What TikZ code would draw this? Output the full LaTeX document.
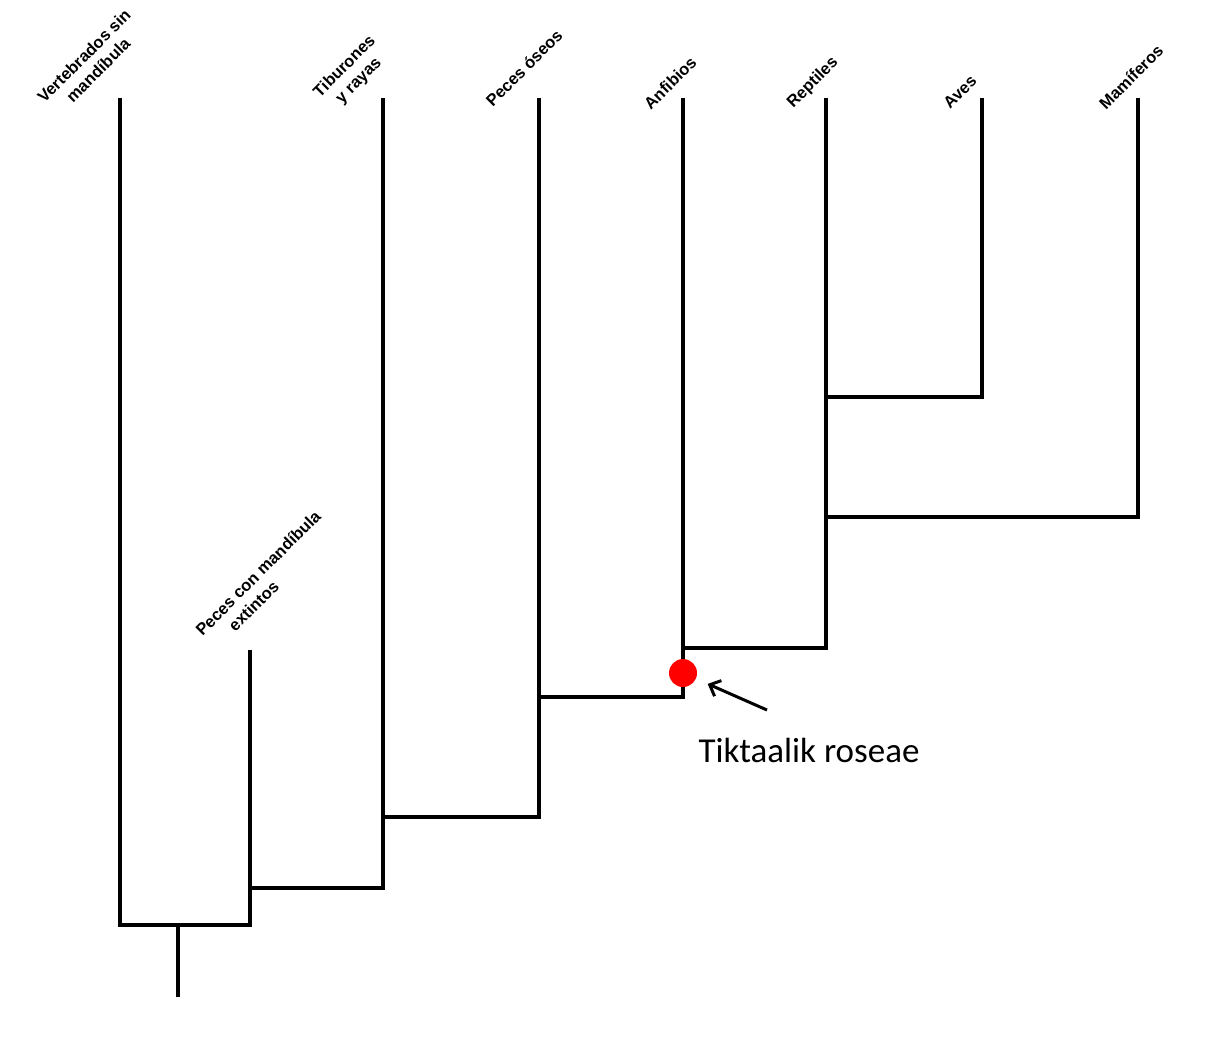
\documentclass[tikz,border=0pt]{standalone}
\usepackage{fontspec}
\setmainfont{Liberation Sans}
\newfontfamily\calibrifont{Carlito}
\usetikzlibrary{arrows.meta}
\begin{document}
\begin{tikzpicture}[x=1pt,y=-1pt,
  br/.style={line width=4pt,line join=miter,line cap=butt,black},
  taxon/.style={rotate=45,font=\bfseries\fontsize{16.5}{20}\selectfont,align=center,inner sep=0pt},
  fossil/.style={circle,fill=red,minimum size=28pt,inner sep=0pt,outer sep=0pt}]
\useasboundingbox[fill=white] (0,0) rectangle (1227,1037);
% coordinates
\coordinate (vt) at (120,98);  \coordinate (vb) at (120,925);
\coordinate (pt) at (250,650); \coordinate (pb) at (250,925);
\coordinate (root) at (178,925); \coordinate (rootb) at (178,997);
\coordinate (j1) at (250,888); \coordinate (tb) at (383,888); \coordinate (tt) at (383,98);
\coordinate (j2) at (383,817); \coordinate (ob) at (539,817); \coordinate (ot) at (539,98);
\coordinate (j3) at (539,697); \coordinate (ab) at (683,697); \coordinate (at) at (683,98);
\coordinate (j4) at (683,648); \coordinate (rb) at (826,648); \coordinate (rt) at (826,98);
\coordinate (j5) at (826,517); \coordinate (mb) at (1138,517); \coordinate (mt) at (1138,98);
\coordinate (j6) at (826,397); \coordinate (avb) at (982,397); \coordinate (avt) at (982,98);
% branches
\draw[br] (vt) -- (vb) -- (pb) -- (pt);
\draw[br] (root) -- (rootb);
\draw[br] (j1) -- (tb) -- (tt);
\draw[br] (j2) -- (ob) -- (ot);
\draw[br] (j3) -- (ab) -- (at);
\draw[br] (j4) -- (rb) -- (rt);
\draw[br] (j5) -- (mb) -- (mt);
\draw[br] (j6) -- (avb) -- (avt);
% labels
\node[taxon] (lv) at (91,63) {Vertebrados sin\\mandíbula};
\node[taxon] (lt) at (352,74) {Tiburones\\y rayas};
\node[taxon,align=left] (lp) at (265,580) {Peces con mandíbula\\\hspace*{1.6em}extintos};
\node[taxon] (lo) at (524,68) {Peces óseos};
\node[taxon] (la) at (670,83) {Anfibios};
\node[taxon] (lr) at (813,83) {Reptiles};
\node[taxon] (lav) at (960,92) {Aves};
\node[taxon] (lm) at (1131,77) {Mamíferos};
% fossil
\node[fossil] (dot) at (683,673) {};
\coordinate (arrs) at (767,710);
\draw[line width=3pt,-{Straight Barb[length=9pt,width=17pt,line width=3pt]},shorten >=13pt] (arrs) -- (dot);
\node[font=\calibrifont\fontsize{35}{40}\selectfont,inner sep=0pt] (tik) at (809,750) {Tiktaalik roseae};
\end{tikzpicture}
\end{document}
